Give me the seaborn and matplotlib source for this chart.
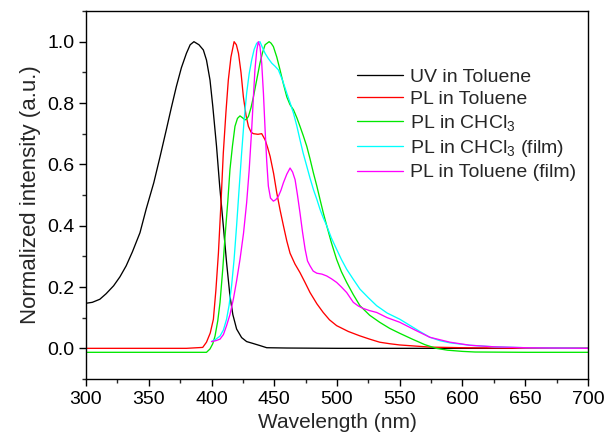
import matplotlib
matplotlib.use("Agg")
import matplotlib.pyplot as plt
import seaborn as sns
from matplotlib.ticker import MultipleLocator, FormatStrFormatter

# UV absorption in toluene
uv_nm = [300, 305, 311, 316, 322, 327, 332, 337, 343, 348, 354, 359, 364, 368, 372,
         376, 380, 383, 386, 390, 393.5, 396, 398.8, 401, 404, 406.5, 409.4, 412,
         414.7, 417, 420, 424, 428, 433, 438.6, 444, 460, 500, 600, 700]
uv_int = [0.147, 0.15, 0.16, 0.178, 0.204, 0.233, 0.269, 0.315, 0.377, 0.455, 0.54,
          0.625, 0.713, 0.785, 0.854, 0.915, 0.962, 0.99, 1.0, 0.99, 0.973, 0.94,
          0.875, 0.79, 0.659, 0.53, 0.40, 0.28, 0.171, 0.11, 0.063, 0.035, 0.022,
          0.016, 0.009, 0.002, 0.001, 0.0, 0.0, 0.0]

# PL in toluene
red_nm = [300, 380, 393, 396, 399, 401.5, 403.5, 405.5, 407.5, 409.4, 411.5, 413.4,
          415.5, 418, 419.8, 421.5, 423.5, 425.4, 427.5, 429.4, 431.5, 433.4, 437,
          440, 442.7, 444.7, 446.7, 449.5, 452, 454.7, 457.3, 460, 462.6, 466.5,
          470.5, 474.5, 478.5, 484, 489, 494, 499.7, 509, 518, 526, 534, 542, 550,
          574, 600, 650, 700]
red_int = [0.0, 0.0, 0.003, 0.02, 0.05, 0.095, 0.19, 0.31, 0.47, 0.637, 0.77, 0.875,
           0.95, 1.0, 0.99, 0.962, 0.9, 0.82, 0.76, 0.724, 0.705, 0.70, 0.698, 0.70,
           0.68, 0.655, 0.626, 0.57, 0.507, 0.45, 0.40, 0.35, 0.31, 0.275, 0.247,
           0.215, 0.182, 0.145, 0.117, 0.093, 0.074, 0.055, 0.041, 0.03, 0.02, 0.015,
           0.011, 0.004, 0.002, 0.0, 0.0]

# PL in CHCl3
green_nm = [300, 396, 398.8, 401, 402.8, 405, 406.8, 409, 410.8, 413, 414.7, 416.7,
            418.7, 420.7, 422.7, 424.7, 426.7, 428, 429.4, 431.5, 433.4, 436, 438.6,
            440.7, 442.7, 445.9, 447.5, 449.3, 452, 454.6, 457.3, 460, 462.5, 465.3,
            468, 470.5, 473, 475.9, 478.5, 481.2, 484, 486.5, 489, 491.8, 495.5, 499.7,
            503.5, 507.7, 513, 518.3, 526, 534, 542, 550, 560, 570, 579, 588, 600,
            610, 650, 700]
green_int = [-0.013, -0.013, -0.002, 0.015, 0.04, 0.09, 0.15, 0.26, 0.366, 0.48, 0.583,
             0.66, 0.724, 0.75, 0.758, 0.752, 0.745, 0.748, 0.756, 0.785, 0.82, 0.875,
             0.93, 0.965, 0.99, 1.0, 0.995, 0.984, 0.95, 0.908, 0.862, 0.82, 0.795,
             0.778, 0.752, 0.724, 0.695, 0.659, 0.618, 0.572, 0.528, 0.485, 0.443, 0.40,
             0.345, 0.29, 0.25, 0.215, 0.175, 0.139, 0.108, 0.085, 0.065, 0.049, 0.03,
             0.012, 0.0, -0.006, -0.01, -0.012, -0.013, -0.013]

# PL in CHCl3 (film)
cyan_nm = [400, 403.5, 406.8, 409.5, 412, 414, 416, 418, 420, 422, 424, 426, 428, 430,
           432, 434, 436, 438.6, 440.7, 442.7, 445.3, 448, 450.6, 453.3, 456.5, 460,
           462.7, 465.3, 468, 470.5, 473, 475.9, 478.5, 481.2, 484, 486.5, 489, 491.8,
           495.5, 499.7, 503.5, 507.7, 513, 518.3, 525, 531.6, 540, 550, 558, 566,
           574, 582, 590, 606, 625, 650, 700]
cyan_int = [0.022, 0.03, 0.04, 0.06, 0.095, 0.14, 0.204, 0.29, 0.40, 0.52, 0.637,
            0.745, 0.832, 0.895, 0.94, 0.975, 0.995, 1.0, 0.98, 0.962, 0.945, 0.93,
            0.92, 0.908, 0.875, 0.832, 0.8, 0.767, 0.725, 0.68, 0.637, 0.594, 0.555,
            0.518, 0.485, 0.453, 0.426, 0.40, 0.36, 0.323, 0.29, 0.258, 0.225, 0.193,
            0.165, 0.139, 0.115, 0.095, 0.075, 0.055, 0.036, 0.025, 0.018, 0.01,
            0.005, 0.002, 0.0]

# PL in toluene (film)
mag_nm = [400, 403.5, 406.8, 409.5, 412, 414.7, 417.4, 420, 422.7, 425.5, 428, 430,
          432, 433.4, 434.6, 436, 437.3, 438.6, 440, 441.4, 442.7, 444, 445.3, 447,
          449.3, 451.3, 453.3, 455.3, 457.3, 460, 462.6, 464.6, 466.6, 468.5, 470.5,
          472.5, 474.6, 476.5, 478.5, 481, 483.9, 488, 491.8, 495.5, 499.7, 503.5,
          507.7, 510.5, 513, 517, 521, 526, 531.6, 540, 550, 562, 574, 590, 606,
          625, 650, 700]
mag_int = [0.022, 0.025, 0.03, 0.045, 0.074, 0.11, 0.16, 0.22, 0.29, 0.375, 0.475,
           0.58, 0.713, 0.82, 0.908, 0.97, 1.0, 0.985, 0.93, 0.83, 0.713, 0.61, 0.529,
           0.49, 0.48, 0.485, 0.496, 0.515, 0.54, 0.568, 0.588, 0.575, 0.55, 0.5,
           0.442, 0.38, 0.323, 0.285, 0.269, 0.252, 0.245, 0.242, 0.236, 0.227, 0.215,
           0.2, 0.182, 0.165, 0.15, 0.138, 0.13, 0.123, 0.117, 0.1, 0.085, 0.06,
           0.036, 0.02, 0.01, 0.005, 0.002, 0.0]

series = [
    (uv_nm, uv_int, "black", "UV in Toluene"),
    (red_nm, red_int, "#ff0000", "PL in Toluene"),
    (green_nm, green_int, "#00e800", "PL in CHCl$_3$"),
    (cyan_nm, cyan_int, "#00ffff", "PL in CHCl$_3$ (film)"),
    (mag_nm, mag_int, "#ff00ff", "PL in Toluene (film)"),
]

sns.set_style("ticks")
plt.rcParams["font.family"] = ["Liberation Sans", "DejaVu Sans"]
plt.rcParams["mathtext.default"] = "regular"

fig, ax = plt.subplots(figsize=(6.04, 4.41), dpi=100)
fig.subplots_adjust(left=0.1424, right=0.9735, top=0.975, bottom=0.1406)

for x, y, c, lab in series:
    sns.lineplot(x=x, y=y, color=c, label=lab, linewidth=0.95, ax=ax,
                 estimator=None, sort=False)

ax.set_xlim(300, 700)
ax.set_ylim(-0.1, 1.1)
ax.xaxis.set_major_locator(MultipleLocator(50))
ax.xaxis.set_minor_locator(MultipleLocator(25))
ax.yaxis.set_major_locator(MultipleLocator(0.2))
ax.yaxis.set_minor_locator(MultipleLocator(0.1))
ax.yaxis.set_major_formatter(FormatStrFormatter("%.1f"))
ax.tick_params(which="major", direction="out", length=5, width=1.0, labelsize=14,
               colors="black")
ax.tick_params(which="minor", direction="out", length=3, width=1.0)
for s in ax.spines.values():
    s.set_linewidth(1.0)
    s.set_color("black")

ax.set_xlabel("Wavelength (nm)", fontsize=15)
ax.set_ylabel("Normalized intensity (a.u.)", fontsize=16)

ax.legend(loc="upper left", bbox_to_anchor=(0.54, 0.845), frameon=False,
          fontsize=14, borderpad=0, borderaxespad=0, handlelength=2.37,
          handletextpad=0.36, labelspacing=0.25)

plt.savefig("out.png", dpi=100)
